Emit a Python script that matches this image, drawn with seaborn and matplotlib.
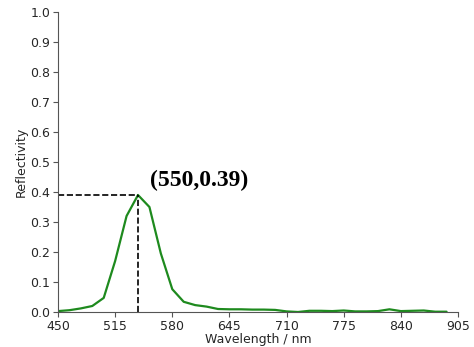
import numpy as np
import pandas as pd
import matplotlib
matplotlib.use("Agg")
import matplotlib.pyplot as plt
import seaborn as sns

wavelength = [450, 463, 476, 489, 502, 515, 528, 541, 554, 567, 580, 593, 606, 619,
              632, 645, 658, 671, 684, 697, 710, 723, 736, 749, 762, 775, 788, 801,
              814, 827, 840, 853, 866, 879, 892]
reflectivity = [0.003, 0.006, 0.012, 0.020, 0.047, 0.170, 0.320, 0.390, 0.350, 0.195,
                0.076, 0.034, 0.023, 0.018, 0.010, 0.009, 0.009, 0.008, 0.008, 0.007,
                0.002, 0.000, 0.004, 0.004, 0.003, 0.005, 0.002, 0.002, 0.003, 0.009,
                0.003, 0.004, 0.005, 0.001, 0.001]
x_ticks = [450, 515, 580, 645, 710, 775, 840, 905]
y_ticks = [0.0, 0.1, 0.2, 0.3, 0.4, 0.5, 0.6, 0.7, 0.8, 0.9, 1.0]
peak_x = 541
peak_y = 0.39
peak_label = "(550,0.39)"

sns.set_style("ticks")
plt.rcParams['font.family'] = ['DejaVu Sans']

df = pd.DataFrame({"Wavelength": wavelength, "Reflectivity": reflectivity})

fig = plt.figure(figsize=(4.74, 3.47), dpi=100)
ax = fig.add_axes([58/474, 1-312/347, 400/474, 300/347])
sns.lineplot(data=df, x="Wavelength", y="Reflectivity", ax=ax,
             color="#1e8a1e", linewidth=1.6)

ax.plot([450, peak_x], [peak_y, peak_y], linestyle="--", color="black", linewidth=1.2)
ax.plot([peak_x, peak_x], [0, peak_y], linestyle="--", color="black", linewidth=1.2)

ax.text(611, 0.44, peak_label, ha="center", va="center", fontsize=17,
        fontweight="bold", color="black", family=["Liberation Serif", "DejaVu Serif"])

ax.set_xlim(450, 905)
ax.set_ylim(0, 1.0)
ax.set_xticks(x_ticks)
ax.set_yticks(y_ticks)
ax.set_yticklabels([f"{v:.1f}" for v in y_ticks])
ax.set_xlabel("Wavelength / nm", fontsize=9, labelpad=0)
ax.set_ylabel("Reflectivity", fontsize=9, labelpad=2)
ax.tick_params(labelsize=9, color="#555555", length=3.5, pad=2)
for s in ["left", "bottom"]:
    ax.spines[s].set_color("#555555")
sns.despine(ax=ax)

fig.savefig("out.png", dpi=100)
